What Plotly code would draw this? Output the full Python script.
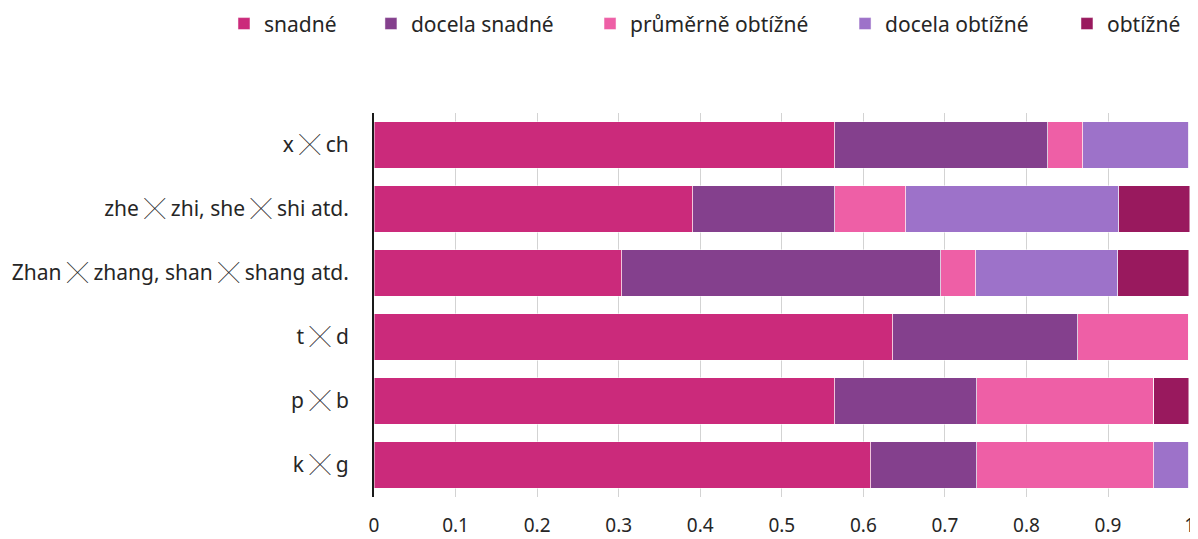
import plotly.graph_objects as go

categories = ["x ╳ ch", "zhe ╳ zhi, she ╳ shi atd.", "Zhan ╳ zhang, shan ╳ shang atd.",
              "t ╳ d", "p ╳ b", "k ╳ g"]

series_names = ["snadné", "docela snadné", "průměrně obtížné", "docela obtížné", "obtížné"]

snadne = [0.565, 0.391, 0.304, 0.636, 0.565, 0.609]
docela_snadne = [0.261, 0.174, 0.391, 0.227, 0.174, 0.130]
prumerne = [0.043, 0.087, 0.043, 0.136, 0.217, 0.217]
docela_obtizne = [0.130, 0.261, 0.174, 0.0, 0.0, 0.043]
obtizne = [0.0, 0.087, 0.087, 0.0, 0.043, 0.0]

x_ticks = [0, 0.1, 0.2, 0.3, 0.4, 0.5, 0.6, 0.7, 0.8, 0.9, 1]
x_ticktext = ["0", "0.1", "0.2", "0.3", "0.4", "0.5", "0.6", "0.7", "0.8", "0.9", "1"]

colors = ["#cb2a7b", "#84408d", "#ee5fa6", "#9d72c9", "#99195e"]

FONT = "Noto Sans, Noto Sans CJK JP"
TEXT = "#262626"
SIZE = 21

fig = go.Figure()

all_values = [snadne, docela_snadne, prumerne, docela_obtizne, obtizne]
# one legend per series so the entries can sit where Excel put them
legend_x = [0.1815, 0.3050, 0.4891, 0.7034, 0.8899]

for i, (name, vals, col) in enumerate(zip(series_names, all_values, colors)):
    lg = "legend" if i == 0 else f"legend{i+1}"
    fig.add_trace(go.Bar(
        y=categories,
        x=vals,
        name=name,
        orientation="h",
        marker=dict(color=col, line=dict(color="rgba(255,255,255,0.6)", width=0.8)),
        legend=lg,
        showlegend=True,
    ))

layout_legends = {}
for i, lx in enumerate(legend_x):
    key = "legend" if i == 0 else f"legend{i+1}"
    layout_legends[key] = dict(
        x=lx, xref="container", xanchor="left",
        y=0.970, yref="container", yanchor="middle",
        orientation="h", bgcolor="rgba(0,0,0,0)",
        font=dict(family=FONT, size=SIZE, color=TEXT),
    )

# page body has an 8px margin, so the figure is 8px smaller than the window
fig.update_layout(
    barmode="stack",
    bargap=0.28,
    showlegend=True,
    width=1190, height=531,
    margin=dict(l=366, r=8, t=105, b=42, autoexpand=False),
    plot_bgcolor="white",
    paper_bgcolor="white",
    font=dict(family=FONT, size=SIZE, color=TEXT),
    xaxis=dict(
        range=[0, 1.0005],
        tickvals=x_ticks,
        ticktext=x_ticktext,
        showgrid=True, gridcolor="#d3d3d3", gridwidth=1,
        zeroline=False, showline=False,
        ticks="", ticklabelstandoff=15,
        ticklabeloverflow="allow",
        tickfont=dict(family=FONT, size=19, color=TEXT),
        automargin=False,
    ),
    yaxis=dict(
        categoryorder="array", categoryarray=categories[::-1],
        showline=True, linecolor="#1a1a1a", linewidth=2,
        showgrid=False, ticks="", ticklabelstandoff=19,
        tickfont=dict(family=FONT, size=SIZE, color=TEXT),
        automargin=False,
    ),
    **layout_legends,
)

fig.write_html("out.html")
